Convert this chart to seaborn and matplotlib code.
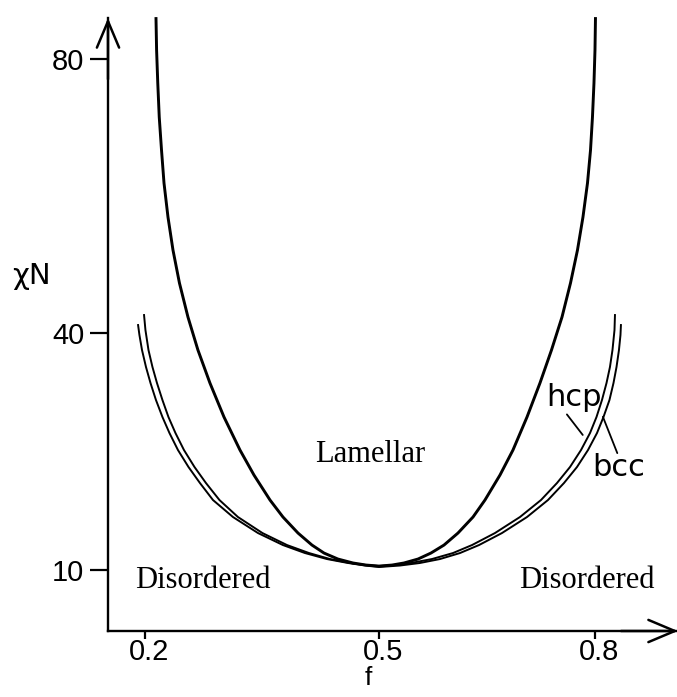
import numpy as np
import matplotlib
matplotlib.use("Agg")
import matplotlib.pyplot as plt
import seaborn as sns
from matplotlib.transforms import ScaledTranslation

# Phase boundaries of a diblock melt: segregation chi*N versus composition f
lamellar_f = [0.2141, 0.2149, 0.2164, 0.2183, 0.2212, 0.2244, 0.2295, 0.2359, 0.2442, 0.2551,
              0.2679, 0.2833, 0.3013, 0.3218, 0.3397, 0.3603, 0.3769, 0.3962, 0.4141, 0.4295,
              0.4474, 0.4667, 0.4833, 0.5000, 0.5181, 0.5347, 0.5542, 0.5722, 0.5903, 0.6097,
              0.6306, 0.6472, 0.6681, 0.6861, 0.7056, 0.7236, 0.7396, 0.7542, 0.7660, 0.7757,
              0.7833, 0.7896, 0.7938, 0.7965, 0.7986, 0.8000, 0.8007]
lamellar_xn = [86.13, 81.31, 76.50, 71.53, 66.72, 61.90, 56.93, 52.12, 47.30, 42.34,
               37.85, 33.67, 29.37, 25.19, 22.03, 18.86, 16.71, 14.68, 13.16, 12.15,
               11.39, 10.89, 10.63, 10.50, 10.63, 10.89, 11.39, 12.15, 13.16, 14.68,
               16.71, 18.86, 22.03, 25.19, 29.37, 33.67, 37.85, 42.34, 47.30, 52.12,
               56.93, 61.90, 66.72, 71.53, 76.50, 81.31, 86.13]

hcp_f = [0.1987, 0.2006, 0.2045, 0.2096, 0.2154, 0.2224, 0.2301, 0.2391, 0.2500, 0.2635,
         0.2782, 0.2955, 0.3192, 0.3506, 0.3821, 0.4103, 0.4372, 0.4628, 0.4833, 0.5000,
         0.5222, 0.5444, 0.5736, 0.6028, 0.6292, 0.6611, 0.6958, 0.7250, 0.7472, 0.7653,
         0.7806, 0.7931, 0.8021, 0.8097, 0.8160, 0.8208, 0.8243, 0.8271, 0.8278]
hcp_xn = [42.77, 40.44, 37.85, 35.70, 33.67, 31.52, 29.37, 27.34, 25.19, 23.04,
          21.01, 18.86, 16.71, 14.68, 13.16, 12.15, 11.39, 10.89, 10.63, 10.50,
          10.63, 10.89, 11.39, 12.15, 13.16, 14.68, 16.71, 18.86, 21.01, 23.04,
          25.19, 27.34, 29.37, 31.52, 33.67, 35.70, 37.85, 40.44, 42.77]

bcc_f = [0.1910, 0.1929, 0.1962, 0.2013, 0.2071, 0.2141, 0.2224, 0.2314, 0.2423, 0.2558,
         0.2705, 0.2872, 0.3128, 0.3449, 0.3769, 0.4051, 0.4333, 0.4603, 0.4821, 0.5000,
         0.5292, 0.5569, 0.5847, 0.6125, 0.6389, 0.6708, 0.7056, 0.7347, 0.7569, 0.7750,
         0.7903, 0.8028, 0.8118, 0.8201, 0.8257, 0.8299, 0.8333, 0.8354, 0.8361]
bcc_xn = [41.31, 39.75, 37.85, 35.70, 33.67, 31.52, 29.37, 27.34, 25.19, 23.04,
          21.01, 18.86, 16.71, 14.68, 13.16, 12.15, 11.39, 10.89, 10.57, 10.38,
          10.57, 10.89, 11.39, 12.15, 13.16, 14.68, 16.71, 18.86, 21.01, 23.04,
          25.19, 27.34, 29.37, 31.52, 33.67, 35.70, 37.85, 39.75, 41.31]

x_ticks = [0.2, 0.5, 0.8]
x_tick_labels = ["0.2", "0.5", "0.8"]
y_ticks = [10, 40, 80]
y_tick_labels = ["10", "40", "80"]

region_labels = ["Lamellar", "Disordered", "Disordered"]
region_f = [0.4885, 0.274, 0.789]
region_xn = [24.6, 8.7, 8.7]

sns.set_theme(style="white")
plt.rcParams["font.family"] = ["Liberation Sans", "DejaVu Sans"]

fig = plt.figure(figsize=(6.77, 6.97), dpi=100)
ax = fig.add_axes([108 / 677, 1 - 631 / 697, 570 / 677, 613 / 697])

# Non-uniform axis scales (schematic spacing of the tick values)
fx_anchor = [0.0, 0.2, 0.5, 0.8, 1.0]
ux_anchor = [-156.0, 0.0, 234.0, 450.0, 594.0]
fy_anchor = [0.0, 10.0, 40.0, 80.0, 100.0]
uy_anchor = [-79.0, 0.0, 237.0, 511.0, 648.0]
ax.set_xscale("function", functions=(lambda v: np.interp(v, fx_anchor, ux_anchor),
                                     lambda u: np.interp(u, ux_anchor, fx_anchor)))
ax.set_yscale("function", functions=(lambda v: np.interp(v, fy_anchor, uy_anchor),
                                     lambda u: np.interp(u, uy_anchor, fy_anchor)))

line_kw = dict(sort=False, estimator=None, color="black", ax=ax,
               solid_joinstyle="round", solid_capstyle="butt")
sns.lineplot(x=lamellar_f, y=lamellar_xn, lw=2.1, clip_on=False, **line_kw)
sns.lineplot(x=hcp_f, y=hcp_xn, lw=1.4, **line_kw)
sns.lineplot(x=bcc_f, y=bcc_xn, lw=1.4, **line_kw)

ax.set_xlim(0.1526, 0.9153)
ax.set_ylim(2.28, 86.0)

for s in ["top", "right"]:
    ax.spines[s].set_visible(False)
for s in ["left", "bottom"]:
    ax.spines[s].set_linewidth(1.7)
    ax.spines[s].set_color("black")

ax.set_xticks(x_ticks)
ax.set_xticklabels(x_tick_labels)
ax.set_yticks(y_ticks)
ax.set_yticklabels(y_tick_labels)
ax.tick_params(axis="x", direction="out", length=6, width=1.6, pad=-1, labelsize=21,
               bottom=True, colors="black")
ax.tick_params(axis="y", direction="out", length=13, width=1.6, pad=4, labelsize=21,
               left=True, colors="black")
for lab in ax.get_xticklabels():
    lab.set_transform(lab.get_transform() + ScaledTranslation(4 / 100, 0, fig.dpi_scale_trans))

ax.set_xlabel("f", fontsize=19, color="black")
ax.xaxis.set_label_coords(0.456, -0.057)
ax.set_ylabel("χN", fontsize=21, rotation=0, color="black",
              family=["DejaVu Sans"])
ax.yaxis.set_label_coords(-0.135, 0.556)

# Open arrow heads at the ends of both axes
arrow = dict(arrowstyle="->,head_length=1.9,head_width=0.8", lw=1.8, color="black",
             shrinkA=0, shrinkB=0, mutation_scale=10)
ax.annotate("", xy=(0, 1.0), xytext=(0, 0.9), xycoords="axes fraction",
            arrowprops=arrow, annotation_clip=False)
ax.annotate("", xy=(1.0, 0), xytext=(0.9, 0), xycoords="axes fraction",
            arrowprops=arrow, annotation_clip=False)

for txt, fx, yx in zip(region_labels, region_f, region_xn):
    ax.text(fx, yx, txt, ha="center", va="center", fontsize=22,
            family="Liberation Serif", color="black")

# Labels for the two nearly coincident boundaries, with leader lines
ax.text(0.771, 31.8, "hcp", ha="center", va="center", fontsize=22, color="black",
        family=["DejaVu Sans"])
ax.text(0.833, 23.0, "bcc", ha="center", va="center", fontsize=22, color="black",
        family=["DejaVu Sans"])
ax.plot([0.761, 0.783], [29.7, 27.1], color="black", lw=1.3)
ax.plot([0.811, 0.831], [29.4, 24.8], color="black", lw=1.3)

fig.savefig("out.png", dpi=100)
